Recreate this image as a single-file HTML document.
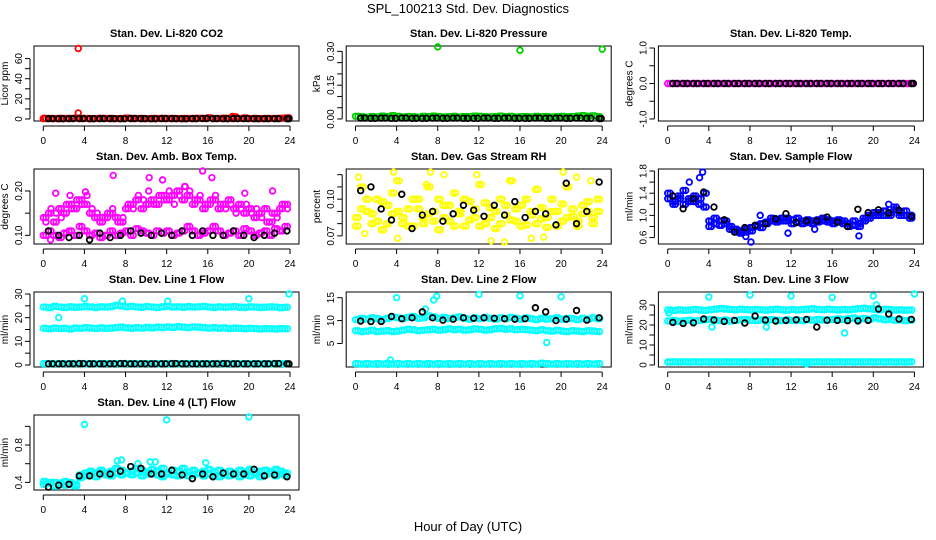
<!DOCTYPE html>
<html><head><meta charset="utf-8"><title>SPL_100213 Std. Dev. Diagnostics</title>
<style>html,body{margin:0;padding:0;background:#fff}svg{display:block;font-family:"Liberation Sans",sans-serif}</style>
</head><body>
<svg id="chart" width="936" height="540" viewBox="0 0 936 540" xmlns="http://www.w3.org/2000/svg">
<rect width="936" height="540" fill="#fff"/>
<text x="468" y="13" text-anchor="middle" font-size="13">SPL_100213  Std. Dev. Diagnostics</text>
<text x="468" y="531" text-anchor="middle" font-size="13">Hour of Day (UTC)</text>
<g id="panels"></g>
</svg>
<script>
const hoursC=[0,0.5,1,1.5,2,2.5,3,3.5,4,4.5,5,5.5,6,6.5,7,7.5,8,8.5,9,9.5,10,10.5,11,11.5,12,12.5,13,13.5,14,14.5,15,15.5,16,16.5,17,17.5,18,18.5,19,19.5,20,20.5,21,21.5,22,22.5,23,23.5];
const hoursC2=[0.25,0.75,1.25,1.75,2.25,2.75,3.25,3.75,4.25,4.75,5.25,5.75,6.25,6.75,7.25,7.75,8.25,8.75,9.25,9.75,10.25,10.75,11.25,11.75,12.25,12.75,13.25,13.75,14.25,14.75,15.25,15.75,16.25,16.75,17.25,17.75,18.25,18.75,19.25,19.75,20.25,20.75,21.25,21.75,22.25,22.75,23.25,23.75];
const hoursB=[0.5,1.5,2.5,3.5,4.5,5.5,6.5,7.5,8.5,9.5,10.5,11.5,12.5,13.5,14.5,15.5,16.5,17.5,18.5,19.5,20.5,21.5,22.5,23.7];
const hoursB2=[0.9,1.9,2.9,3.9,4.9,5.9,6.9,7.9,8.9,9.9,10.9,11.9,12.9,13.9,14.9,15.9,16.9,17.9,18.9,19.9,20.9,21.9,22.9,23.9];
const xTicks=[0,4,8,12,16,20,24];

const co2Red=[0.5,0.6,0.4,0.7,0.5,0.6,0.8,0.5,0.6,0.4,0.5,0.7,0.6,0.5,0.4,0.6,0.9,0.5,0.6,0.5,0.4,0.6,0.5,0.7,0.5,0.6,0.4,0.5,0.6,0.5,0.7,0.6,1.2,0.5,0.6,0.8,0.5,2.1,0.6,1.0,0.5,0.6,0.4,0.5,0.6,0.5,0.7,1.1];
const co2OutH=[3.4,3.4,18.4,0.1,23.9];
const co2OutV=[70,6,2.5,0.8,1.2];
const co2Black=[0.4,0.3,0.4,0.5,0.3,0.4,0.4,0.3,0.5,0.4,0.3,0.4,0.4,0.3,0.4,0.5,0.4,0.3,0.4,0.4,0.3,0.4,0.4,0.3];
const presGreen=[0.012,0.01,0.008,0.011,0.009,0.013,0.01,0.015,0.012,0.009,0.011,0.01,0.008,0.012,0.01,0.013,0.011,0.009,0.01,0.012,0.009,0.011,0.01,0.013,0.012,0.01,0.009,0.011,0.013,0.01,0.012,0.009,0.01,0.011,0.009,0.012,0.01,0.011,0.009,0.01,0.012,0.01,0.011,0.013,0.015,0.012,0.014,0.011];
const presOutH=[8,16,24];
const presOutV=[0.32,0.305,0.31];
const presBlack=[0.004,0.003,0.004,0.003,0.004,0.003,0.003,0.004,0.003,0.004,0.003,0.003,0.004,0.003,0.004,0.003,0.003,0.004,0.003,0.004,0.003,0.004,0.003,0.002];
const tempMag=[0,0,0,0,0,0,0,0,0,0,0,0,0,0,0,0,0,0,0,0,0,0,0,0,0,0,0,0,0,0,0,0,0,0,0,0,0,0,0,0,0,0,0,0,0,0,0,0];
const tempBlack=[0,0,0,0,0,0,0,0,0,0,0,0,0,0,0,0,0,0,0,0,0,0,0,0];
const ambUpper=[0.14,0.15,0.13,0.16,0.15,0.17,0.16,0.18,0.17,0.15,0.14,0.13,0.14,0.15,0.14,0.13,0.16,0.17,0.18,0.16,0.17,0.18,0.17,0.19,0.18,0.19,0.2,0.18,0.19,0.17,0.18,0.16,0.17,0.18,0.16,0.17,0.18,0.16,0.17,0.15,0.16,0.14,0.15,0.16,0.13,0.15,0.16,0.17];
const ambUpper2=[0.13,0.16,0.15,0.14,0.17,0.16,0.18,0.17,0.19,0.16,0.15,0.14,0.15,0.16,0.13,0.14,0.17,0.16,0.19,0.18,0.2,0.17,0.19,0.18,0.2,0.17,0.19,0.21,0.2,0.18,0.19,0.17,0.18,0.19,0.17,0.16,0.17,0.15,0.16,0.17,0.15,0.16,0.14,0.13,0.15,0.14,0.17,0.16];
const ambLower=[0.1,0.11,0.1,0.095,0.105,0.11,0.1,0.12,0.11,0.1,0.105,0.095,0.1,0.11,0.1,0.105,0.11,0.1,0.115,0.11,0.105,0.1,0.11,0.105,0.11,0.1,0.105,0.11,0.12,0.11,0.1,0.105,0.11,0.12,0.11,0.1,0.105,0.11,0.1,0.115,0.11,0.1,0.105,0.11,0.1,0.115,0.11,0.12];
const ambOutH=[1.2,4.1,10.3,11.6,15.5,16.4,19.6,0.7,6.8,22.3,2.6,13.8];
const ambOutV=[0.195,0.198,0.23,0.225,0.245,0.23,0.195,0.09,0.235,0.2,0.19,0.21];
const ambBlack=[0.11,0.1,0.095,0.1,0.09,0.105,0.095,0.1,0.11,0.105,0.1,0.105,0.1,0.11,0.1,0.11,0.1,0.1,0.11,0.1,0.095,0.1,0.105,0.11];
const rhY1=[0.085,0.11,0.09,0.08,0.1,0.075,0.095,0.088,0.115,0.08,0.092,0.078,0.1,0.085,0.11,0.09,0.075,0.095,0.082,0.105,0.088,0.078,0.098,0.085,0.112,0.08,0.093,0.076,0.1,0.087,0.115,0.082,0.095,0.079,0.09,0.108,0.084,0.077,0.1,0.09,0.082,0.11,0.086,0.078,0.095,0.09,0.08,0.1];
const rhY2=[0.078,0.092,0.1,0.088,0.082,0.098,0.08,0.105,0.09,0.085,0.078,0.1,0.092,0.08,0.088,0.082,0.1,0.085,0.095,0.078,0.09,0.1,0.083,0.092,0.078,0.097,0.085,0.09,0.08,0.095,0.083,0.092,0.078,0.1,0.087,0.08,0.093,0.085,0.09,0.078,0.096,0.085,0.092,0.082,0.088,0.098,0.085,0.09];
const rhOutH=[0.3,3.7,4.1,7.3,8.6,11.8,13.2,14.5,15.1,18.3,20.2,21.5,22.9,0.9,6.9,17.1];
const rhOutV=[0.118,0.122,0.068,0.122,0.12,0.12,0.066,0.065,0.115,0.069,0.122,0.118,0.115,0.072,0.112,0.068];
const rhBlack=[0.107,0.11,0.092,0.083,0.104,0.076,0.087,0.09,0.082,0.088,0.095,0.091,0.086,0.095,0.087,0.098,0.085,0.09,0.088,0.079,0.113,0.08,0.09,0.114];
const flowBlue1=[1.3,1.25,1.35,1.2,1.3,1.25,1.3,1.4,0.9,0.85,0.9,0.85,0.8,0.75,0.72,0.7,0.78,0.82,0.85,0.88,0.9,0.92,0.95,0.9,0.92,0.88,0.9,0.87,0.9,0.92,0.9,0.88,0.9,0.92,0.85,0.8,0.82,0.85,0.9,0.95,1.0,1.05,1.0,1.05,1.1,1.05,1.0,1.0];
const flowBlue2=[1.4,1.2,1.3,1.45,1.25,1.35,1.2,1.15,0.8,0.95,0.82,0.9,0.75,0.7,0.68,0.75,0.72,0.8,0.78,0.85,0.95,0.88,0.9,0.95,0.85,0.95,0.85,0.92,0.85,0.88,0.95,0.92,0.85,0.88,0.9,0.85,0.9,0.8,0.95,1.0,1.05,1.0,1.08,1.0,1.15,1.0,1.08,0.95];
const flowOutH=[2.1,3.1,3.4,8.1,9.0,11.7,18.6,21.5,7.6,14.3];
const flowOutV=[1.6,1.68,1.78,0.52,1.0,0.68,0.63,1.2,0.62,0.75];
const flowBlack=[1.35,1.12,1.3,1.42,1.15,0.92,0.7,0.78,0.82,0.85,0.94,1.03,0.87,0.9,0.9,0.97,0.88,0.8,1.11,1.05,1.1,1.04,1.09,0.98];
const l1Top=[24.5,24.2,24.8,24.5,24.3,24.6,24.4,24.5,24.8,24.5,24.3,24.6,24.5,24.7,25.2,24.9,24.6,24.8,24.5,24.4,24.7,24.5,24.3,24.6,24.8,24.5,24.6,24.4,24.7,24.5,24.6,24.8,24.5,24.3,24.6,24.4,24.5,24.7,24.4,24.3,24.6,24.5,24.3,24.4,24.6,24.5,24.2,24.4];
const l1Mid=[15.5,15.3,15.6,15.4,15.5,15.2,15.6,15.5,15.8,15.6,15.4,15.7,15.5,15.6,15.8,16.0,15.7,15.5,15.8,15.6,15.9,15.7,16.0,15.8,16.1,15.9,16.2,16.0,15.8,16.1,16.0,15.8,15.6,15.8,15.5,15.7,15.4,15.6,15.5,15.3,15.5,15.4,15.2,15.4,15.3,15.2,15.4,15.3];
const l1Low=[0.6,0.5,0.6,0.5,0.6,0.5,0.6,0.6,0.5,0.6,0.5,0.6,0.6,0.5,0.6,0.5,0.6,0.5,0.6,0.5,0.6,0.6,0.5,0.6,0.5,0.6,0.5,0.6,0.6,0.5,0.6,0.5,0.6,0.5,0.6,0.5,0.6,0.6,0.5,0.6,0.5,0.6,0.5,0.6,0.5,0.6,0.6,0.5];
const l1OutH=[1.5,4.0,7.7,12.1,20.0,23.9];
const l1OutV=[20,28,27,27,28,30];
const l1Black=[0.5,0.5,0.5,0.6,0.5,0.5,0.5,0.6,0.5,0.5,0.5,0.5,0.6,0.5,0.5,0.5,0.5,0.6,0.5,0.5,0.5,0.5,0.6,0.5];
const l2Top=[10.2,10.5,10.3,10.6,10.4,10.2,10.5,10.8,10.6,10.4,10.7,10.9,10.5,10.6,11.0,10.8,10.5,10.7,10.4,10.6,10.8,10.5,10.3,10.6,10.4,10.7,10.5,10.3,10.6,10.4,10.7,10.5,10.3,10.6,10.4,10.2,10.5,10.3,10.4,10.6,10.3,10.5,10.4,10.2,10.5,10.3,10.6,10.4];
const l2Mid=[7.8,7.6,7.7,7.9,7.6,7.7,7.8,7.6,7.7,7.9,8.1,8.0,7.8,7.9,8.0,8.1,7.9,8.0,8.2,8.0,8.1,7.9,8.0,8.2,8.1,7.9,8.0,8.2,8.3,8.1,8.2,8.0,8.1,8.0,7.9,7.8,8.0,7.8,7.7,7.9,7.7,7.6,7.8,7.7,7.6,7.8,7.7,7.6];
const l2Low=[0.6,0.5,0.6,0.5,0.6,0.5,0.6,0.5,0.6,0.5,0.6,0.5,0.6,0.5,0.6,0.5,0.6,0.5,0.6,0.5,0.6,0.5,0.6,0.5,0.6,0.5,0.6,0.5,0.6,0.5,0.6,0.5,0.6,0.5,0.6,0.5,0.7,0.6,0.5,0.6,0.5,0.6,0.5,0.6,0.5,0.6,0.5,0.6];
const l2OutH=[4.0,7.6,7.9,12.0,16.0,20.0,18.6,3.4,6.8];
const l2OutV=[15,14.5,15.3,15.7,15.4,15.2,5.2,1.4,12.5];
const l2Black=[9.9,9.8,9.8,10.9,10.4,10.6,11.9,10.6,10.1,10.3,10.6,10.5,10.6,10.5,10.4,10.3,10.4,12.8,11.9,10.0,10.3,12.2,10.1,10.6];
const l3Top=[27.5,27.3,27.6,27.4,27.5,27.8,27.5,27.3,27.6,27.9,28.2,28.0,27.8,27.6,27.9,27.7,27.5,27.8,27.6,27.4,27.7,27.9,27.6,27.4,27.8,27.5,27.7,27.9,28.1,27.8,27.6,27.9,27.7,27.5,27.8,27.6,27.9,28.2,28.4,28.1,27.8,27.6,27.9,27.7,27.5,27.6,27.4,27.5];
const l3Mid=[22.0,22.3,21.8,22.1,22.4,22.0,22.3,22.6,22.8,22.5,22.2,22.5,22.0,22.3,22.6,22.8,22.4,22.2,22.5,22.3,22.7,22.4,22.2,22.6,22.3,22.5,22.2,22.7,22.4,22.8,22.5,22.6,22.8,23.0,22.7,23.2,23.5,22.9,23.3,22.8,23.6,23.1,22.6,22.8,22.4,22.6,22.2,22.4];
const l3Low=[1.5,1.6,1.5,1.6,1.5,1.6,1.5,1.6,1.5,1.6,1.5,1.6,1.5,1.6,1.5,1.6,1.5,1.6,1.5,1.6,1.5,1.6,1.5,1.6,1.5,1.6,1.5,1.6,1.5,1.6,1.5,1.6,1.5,1.6,1.5,1.6,1.5,1.6,1.5,1.6,1.5,1.6,1.5,1.6,1.5,1.6,1.5,1.6];
const l3OutH=[0.1,4.0,4.3,8.0,12.0,16.0,20.0,24.0,17.2,9.6,18.5,20.3,13.5];
const l3OutV=[26,34,19,35,34.5,33.8,34.5,35.5,16,19,22,30,0.5];
const l3Black=[21.3,20.8,21.1,23.0,22.5,21.8,22.3,21.0,24.5,22.5,22.0,22.3,22.6,22.8,19.0,22.4,22.3,22.2,22.1,22.3,28.0,25.5,23.0,22.8];
const l4Main=[0.41,0.39,0.4,0.38,0.41,0.39,0.38,0.45,0.5,0.52,0.5,0.53,0.5,0.52,0.55,0.53,0.5,0.52,0.55,0.53,0.51,0.54,0.52,0.55,0.5,0.53,0.52,0.55,0.51,0.53,0.5,0.52,0.54,0.51,0.53,0.5,0.52,0.5,0.53,0.51,0.54,0.5,0.52,0.53,0.51,0.54,0.52,0.5];
const l4Second=[0.38,0.4,0.36,0.39,0.37,0.4,0.36,0.48,0.47,0.49,0.46,0.5,0.48,0.47,0.5,0.48,0.5,0.48,0.5,0.47,0.49,0.5,0.48,0.46,0.49,0.48,0.47,0.49,0.47,0.48,0.5,0.47,0.49,0.47,0.46,0.48,0.47,0.49,0.46,0.48,0.47,0.49,0.46,0.48,0.5,0.47,0.49,0.47];
const l4OutH=[4.0,12.0,20.0,7.2,7.6,9.2,10.4,15.8,10.9];
const l4OutV=[1.02,1.07,1.1,0.63,0.64,0.6,0.62,0.61,0.62];
const l4Black=[0.35,0.37,0.38,0.47,0.47,0.49,0.49,0.52,0.57,0.55,0.49,0.49,0.53,0.48,0.44,0.49,0.46,0.5,0.49,0.49,0.54,0.47,0.48,0.46];

const BLACK='#000', RED='#ff0000', GREEN='#00cd00', MAG='#ff00ff', YEL='#ffff00', BLUE='#0000ff', CYAN='#00ffff';
const panels=[
 {name:'co2',title:'Stan. Dev. Li-820 CO2',ylab:'Licor ppm',lo:0,hi:70.5,ticks:[0,10,20,30,40,50,60],labels:[0,20,40,60],dec:0,
  series:[[hoursC,co2Red,RED],[hoursC2,co2Red,RED],[co2OutH,co2OutV,RED],[hoursB,co2Black,BLACK],[hoursB2,co2Black,BLACK]]},
 {name:'pressure',title:'Stan. Dev. Li-820 Pressure',ylab:'kPa',lo:0,hi:0.315,ticks:[0,0.05,0.1,0.15,0.2,0.25,0.3],labels:[0,0.15,0.3],dec:2,
  series:[[hoursC,presGreen,GREEN],[hoursC2,presGreen,GREEN],[presOutH,presOutV,GREEN],[hoursB,presBlack,BLACK],[hoursB2,presBlack,BLACK]]},
 {name:'temp',title:'Stan. Dev. Li-820 Temp.',ylab:'degrees C',lo:-1,hi:1,ticks:[-1,-0.5,0,0.5,1],labels:[-1,0,1],dec:1,
  series:[[hoursC,tempMag,MAG],[hoursC2,tempMag,MAG],[hoursB,tempBlack,BLACK],[hoursB2,tempBlack,BLACK]]},
 {name:'amb-temp',title:'Stan. Dev. Amb. Box Temp.',ylab:'degrees C',lo:0.085,hi:0.245,ticks:[0.1,0.15,0.2],labels:[0.1,0.2],dec:2,
  series:[[hoursC,ambUpper,MAG],[hoursC2,ambUpper2,MAG],[hoursC2,ambUpper,MAG],[hoursC,ambLower,MAG],[hoursC2,ambLower,MAG],[ambOutH,ambOutV,MAG],[hoursB,ambBlack,BLACK]]},
 {name:'gas-rh',title:'Stan. Dev. Gas Stream RH',ylab:'percent',lo:0.065,hi:0.123,ticks:[0.07,0.08,0.09,0.1,0.11,0.12],labels:[0.07,0.1],dec:2,
  series:[[hoursC,rhY1,YEL],[hoursC2,rhY2,YEL],[hoursC2,rhY1,YEL],[hoursC,rhY2,YEL],[rhOutH,rhOutV,YEL],[hoursB,rhBlack,BLACK]]},
 {name:'sample-flow',title:'Stan. Dev. Sample Flow',ylab:'ml/min',lo:0.52,hi:1.8,ticks:[0.6,0.8,1.0,1.2,1.4,1.6,1.8],labels:[0.6,1.0,1.4,1.8],dec:1,
  series:[[hoursC,flowBlue1,BLUE],[hoursC2,flowBlue2,BLUE],[hoursC2,flowBlue1,BLUE],[hoursC,flowBlue2,BLUE],[flowOutH,flowOutV,BLUE],[hoursB,flowBlack,BLACK]]},
 {name:'line1-flow',title:'Stan. Dev. Line 1 Flow',ylab:'ml/min',lo:0,hi:30,ticks:[0,5,10,15,20,25,30],labels:[0,10,20,30],dec:0,
  series:[[hoursC,l1Top,CYAN],[hoursC2,l1Top,CYAN],[hoursC,l1Mid,CYAN],[hoursC2,l1Mid,CYAN],[hoursC,l1Low,CYAN],[hoursC2,l1Low,CYAN],[l1OutH,l1OutV,CYAN],[hoursB,l1Black,BLACK],[hoursB2,l1Black,BLACK]]},
 {name:'line2-flow',title:'Stan. Dev. Line 2 Flow',ylab:'ml/min',lo:0.3,hi:15.8,ticks:[5,10,15],labels:[5,10,15],dec:0,
  series:[[hoursC,l2Top,CYAN],[hoursC2,l2Top,CYAN],[hoursC,l2Mid,CYAN],[hoursC2,l2Mid,CYAN],[hoursC,l2Low,CYAN],[hoursC2,l2Low,CYAN],[l2OutH,l2OutV,CYAN],[hoursB,l2Black,BLACK]]},
 {name:'line3-flow',title:'Stan. Dev. Line 3 Flow',ylab:'ml/min',lo:0,hi:35.5,ticks:[0,5,10,15,20,25,30],labels:[0,10,20,30],dec:0,
  series:[[hoursC,l3Top,CYAN],[hoursC2,l3Top,CYAN],[hoursC,l3Mid,CYAN],[hoursC2,l3Mid,CYAN],[hoursC,l3Low,CYAN],[hoursC2,l3Low,CYAN],[l3OutH,l3OutV,CYAN],[hoursB,l3Black,BLACK]]},
 {name:'line4-flow',title:'Stan. Dev. Line 4 (LT) Flow',ylab:'ml/min',lo:0.34,hi:1.1,ticks:[0.4,0.6,0.8,1.0],labels:[0.4,0.8],dec:1,
  series:[[hoursC,l4Main,CYAN],[hoursC2,l4Second,CYAN],[hoursC2,l4Main,CYAN],[hoursC,l4Second,CYAN],[l4OutH,l4OutV,CYAN],[hoursB,l4Black,BLACK]]}
];
const NS='http://www.w3.org/2000/svg';
const root=document.getElementById('panels');
function mk(tag,attrs,parent){const e=document.createElementNS(NS,tag);for(const k in attrs)e.setAttribute(k,attrs[k]);parent.appendChild(e);return e;}
panels.forEach((p,i)=>{
 const col=i%3,row=Math.floor(i/3);
 const L=34+312.2*col,R=299+312.2*col,T=46+123*row,B=T+75;
 const xs=h=>43.3+312.2*col+h*10.28;
 const ys=v=>B-2-(v-p.lo)/(p.hi-p.lo)*71;
 const g=mk('g',{},root);
 
 
 const t=mk('text',{x:(L+R)/2,y:T-9,'text-anchor':'middle','font-size':'11','font-weight':'bold'},g);t.textContent=p.title;
 
 
 const yl=mk('text',{transform:`translate(${L-26},${(T+B)/2}) rotate(-90)`,'text-anchor':'middle','font-size':'10'},g);yl.textContent=p.ylab;
 
 
 const xa=mk('g',{stroke:'#000','stroke-width':1},g);
 
 
 mk('line',{x1:xs(0),x2:xs(24),y1:B+5,y2:B+5},xa);
 xTicks.forEach(v=>{mk('line',{x1:xs(v),x2:xs(v),y1:B+5,y2:B+10},xa);
  const tx=mk('text',{x:xs(v),y:B+23,'text-anchor':'middle','font-size':'10',stroke:'none',fill:'#000'},g);tx.textContent=v;
  
  });
 const ya=mk('g',{stroke:'#000','stroke-width':1},g);
 
 
 mk('line',{x1:L-4,x2:L-4,y1:ys(p.ticks[0]),y2:ys(p.ticks[p.ticks.length-1])},ya);
 p.ticks.forEach(v=>mk('line',{x1:L-9,x2:L-4,y1:ys(v),y2:ys(v)},ya));
 p.labels.forEach(v=>{const ty=mk('text',{transform:`translate(${L-12},${ys(v)}) rotate(-90)`,'text-anchor':'middle','font-size':'10'},g);
  ty.textContent=v.toFixed(p.dec);
  
  });
 const box=mk('rect',{x:L,y:T,width:R-L,height:B-T,fill:'none',stroke:'#000','stroke-width':1},g);
 
 
 p.series.forEach(([hx,vy,c])=>{
  const sg=mk('g',{fill:'none',stroke:c,'stroke-width':1.8},g);
  
  
  hx.forEach((h,k)=>{const pt=mk('circle',{cx:xs(h),cy:ys(vy[k]),r:2.8},sg);
   
   });
 });
});
</script>
</body></html>
